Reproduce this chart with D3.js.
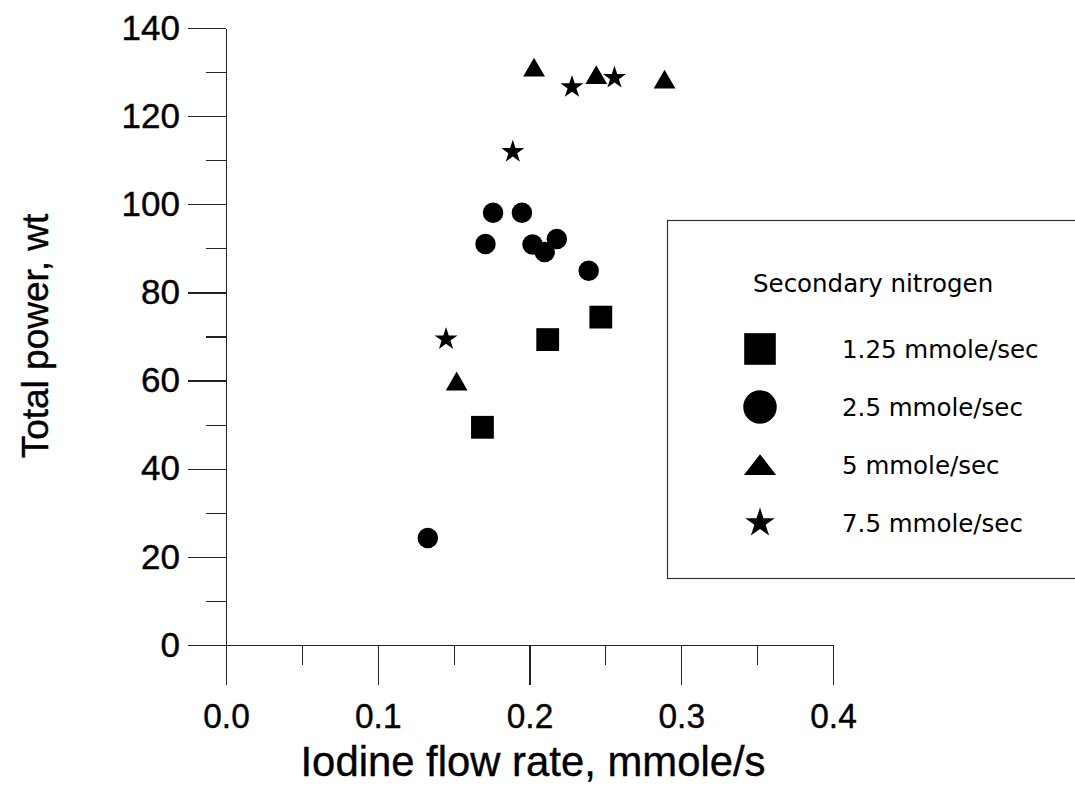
<!DOCTYPE html>
<html>
<head>
<meta charset="utf-8">
<script src="https://cdn.jsdelivr.net/npm/d3@7"></script>
<style>
    body { margin: 0; background: #fff; }
    .axis path, .axis line { stroke: #222; stroke-width: 1.2px; shape-rendering: crispEdges; }
    .axis text { font-family: "Liberation Sans", Arial, sans-serif; fill: #000; }
</style>
</head>
<body>
<script>
(function() {

    // series: secondary nitrogen flow
    var seriesLabels = ["1.25 mmole/sec", "2.5 mmole/sec", "5 mmole/sec", "7.5 mmole/sec"];
    var seriesShapes = ["square", "circle", "triangle", "star"];

    var squareX = [0.169, 0.212, 0.247];
    var squareY = [49.4, 69.3, 74.4];

    var circleX = [0.133, 0.171, 0.176, 0.195, 0.202, 0.210, 0.218, 0.239];
    var circleY = [24.3, 91.0, 98.1, 98.1, 90.9, 89.2, 92.1, 84.9];

    var triangleX = [0.152, 0.203, 0.244, 0.289];
    var triangleY = [59.2, 130.4, 128.7, 127.7];

    var starX = [0.145, 0.189, 0.228, 0.256];
    var starY = [69.4, 111.9, 126.6, 128.7];

    var xTicks = [0.0, 0.1, 0.2, 0.3, 0.4];
    var xMinorTicks = [0.05, 0.15, 0.25, 0.35];
    var yTicks = [0, 20, 40, 60, 80, 100, 120, 140];
    var yMinorTicks = [10, 30, 50, 70, 90, 110, 130];

    var width = 1075,
        height = 786;

    var xScale = d3.scaleLinear()
        .domain([0, 0.4])
        .range([226, 833]);

    var yScale = d3.scaleLinear()
        .domain([0, 140])
        .range([645, 28]);

    var svg = d3.select("body")
        .append("svg")
        .attr("width", width)
        .attr("height", height);

    var symbolTypes = {
        square: d3.symbolSquare,
        circle: d3.symbolCircle,
        triangle: d3.symbolTriangle,
        star: d3.symbolStar
    };
    var pointSizes = { square: 520, circle: 330, triangle: 205, star: 165 };

    setAxes();
    setPoints();
    setLegend();

    function setAxes(){
        // minor ticks first
        svg.append("g")
            .attr("class", "axis")
            .attr("transform", "translate(" + xScale.range()[0] + ",0)")
            .call(d3.axisLeft(yScale).tickValues(yMinorTicks).tickSize(20).tickFormat(""))
            .select(".domain").remove();

        svg.append("g")
            .attr("class", "axis")
            .attr("transform", "translate(0," + yScale(0) + ")")
            .call(d3.axisBottom(xScale).tickValues(xMinorTicks).tickSize(20).tickFormat(""))
            .select(".domain").remove();

        var yAxis = svg.append("g")
            .attr("class", "axis")
            .attr("transform", "translate(" + xScale.range()[0] + ",0)")
            .call(d3.axisLeft(yScale)
                .tickValues(yTicks)
                .tickSize(38)
                .tickSizeOuter(0)
                .tickPadding(8)
                .tickFormat(d3.format("d")));
        yAxis.selectAll("text")
            .style("font-size", "35px")
            .style("stroke", "#000")
            .style("stroke-width", 0.4);

        var xAxis = svg.append("g")
            .attr("class", "axis")
            .attr("transform", "translate(0," + yScale(0) + ")")
            .call(d3.axisBottom(xScale)
                .tickValues(xTicks)
                .tickSize(40)
                .tickSizeOuter(0)
                .tickPadding(17)
                .tickFormat(d3.format(".1f")));
        xAxis.select(".domain")
            .attr("d", "M" + (xScale.range()[0] - 38) + ",0.5H" + xScale.range()[1]);
        xAxis.selectAll(".tick text")
            .attr("transform", "scale(0.93,1)")
            .style("font-size", "36px")
            .style("stroke", "#000")
            .style("stroke-width", 0.4);

        svg.append("text")
            .attr("class", "xtitle")
            .attr("x", 533)
            .attr("y", 776)
            .attr("text-anchor", "middle")
            .attr("textLength", 465)
            .attr("lengthAdjust", "spacingAndGlyphs")
            .style("font-family", "Liberation Sans, Arial, sans-serif")
            .style("font-size", "43px")
            .style("stroke", "#000")
            .style("stroke-width", 0.4)
            .text("Iodine flow rate, mmole/s");

        svg.append("text")
            .attr("class", "ytitle")
            .attr("transform", "translate(48,336) rotate(-90)")
            .attr("text-anchor", "middle")
            .style("font-family", "Liberation Sans, Arial, sans-serif")
            .style("font-size", "37px")
            .style("stroke", "#000")
            .style("stroke-width", 0.4)
            .text("Total power, wt");
    }

    function setPoints(){
        var series = [
            { shape: "square", xs: squareX, ys: squareY },
            { shape: "circle", xs: circleX, ys: circleY },
            { shape: "triangle", xs: triangleX, ys: triangleY },
            { shape: "star", xs: starX, ys: starY }
        ];

        series.forEach(function(s){
            var pts = s.xs.map(function(x, i){ return [x, s.ys[i]]; });
            svg.selectAll(".pt-" + s.shape)
                .data(pts)
                .enter()
                .append("path")
                .attr("class", "pt-" + s.shape)
                .attr("transform", function(d){
                    return "translate(" + xScale(d[0]) + "," + yScale(d[1]) + ")";
                })
                .attr("d", d3.symbol().type(symbolTypes[s.shape]).size(pointSizes[s.shape]))
                .style("fill", "#000");
        });
    }

    function setLegend(){
        var legend = svg.append("g")
            .attr("class", "legend");

        legend.append("rect")
            .attr("x", 667.5)
            .attr("y", 220.5)
            .attr("width", 420)
            .attr("height", 358)
            .style("fill", "#fff")
            .style("stroke", "#333")
            .style("stroke-width", 1.2);

        legend.append("text")
            .attr("x", 753)
            .attr("y", 292)
            .style("font-family", "DejaVu Sans, Verdana, sans-serif")
            .style("font-size", "24.5px")
            .text("Secondary nitrogen");

        var legendSizes = { square: 1000, circle: 880, triangle: 340, star: 270 };

        var items = legend.selectAll(".legendItem")
            .data(seriesLabels)
            .enter()
            .append("g")
            .attr("class", "legendItem")
            .attr("transform", function(d, i){
                return "translate(0," + (349 + i * 58) + ")";
            });

        items.append("path")
            .attr("transform", function(d, i){
                return seriesShapes[i] == "triangle" ? "translate(760,3) scale(1.15,0.85)" : "translate(760,0)";
            })
            .attr("d", function(d, i){
                return d3.symbol().type(symbolTypes[seriesShapes[i]]).size(legendSizes[seriesShapes[i]])();
            })
            .style("fill", "#000");

        items.append("text")
            .attr("x", 842)
            .attr("y", 9)
            .style("font-family", "DejaVu Sans, Verdana, sans-serif")
            .style("font-size", "24.5px")
            .text(function(d){ return d; });
    }

})();
</script>
</body>
</html>
